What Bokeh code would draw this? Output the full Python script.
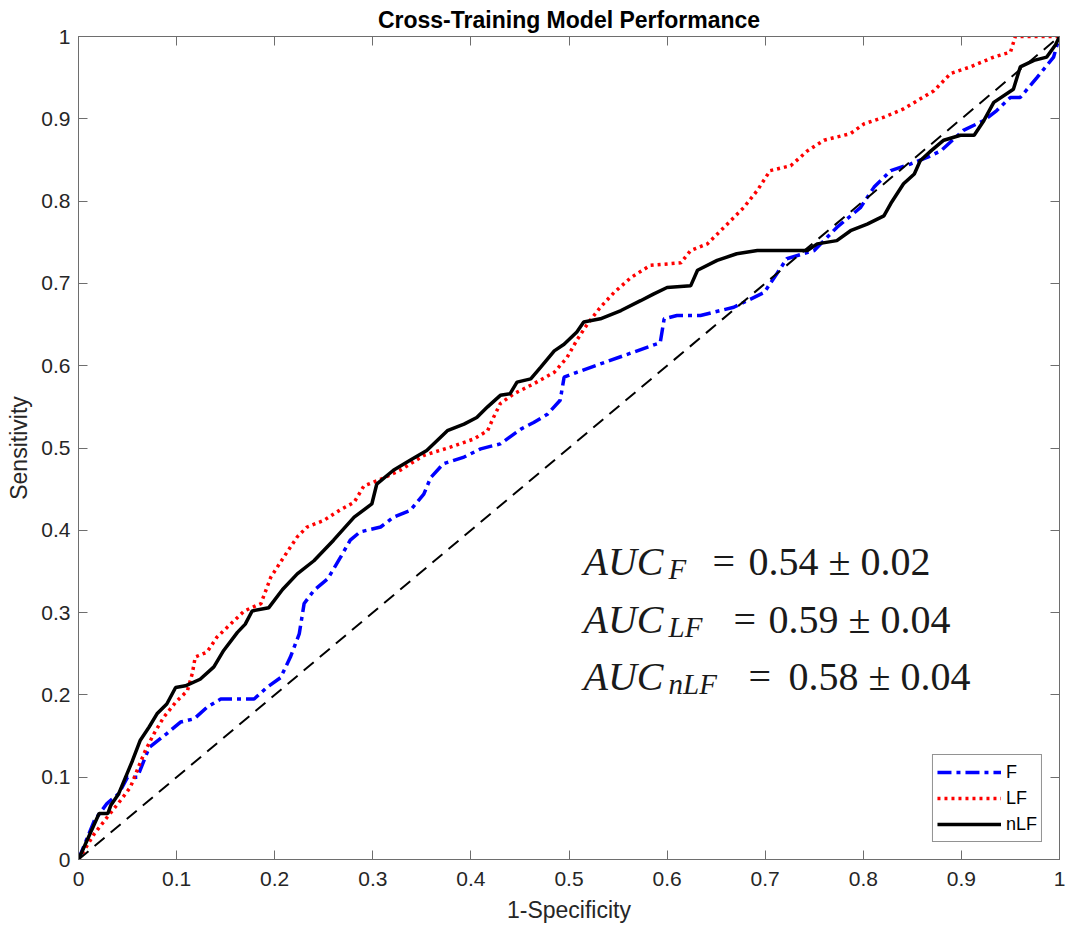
from bokeh.plotting import figure
from bokeh.models import LinearAxis, Label, FixedTicker, Range1d
from bokeh.embed import file_html
from bokeh.resources import INLINE

# ---------------- data ----------------
tick_vals = [0, 0.1, 0.2, 0.3, 0.4, 0.5, 0.6, 0.7, 0.8, 0.9, 1]
tick_labels = ["0", "0.1", "0.2", "0.3", "0.4", "0.5", "0.6", "0.7", "0.8", "0.9", "1"]

f_x = [0, 0.016, 0.029, 0.041, 0.050, 0.060, 0.072, 0.090, 0.104, 0.118, 0.131, 0.145, 0.179,
       0.192, 0.206, 0.216, 0.225, 0.230, 0.240, 0.254, 0.267, 0.277, 0.287, 0.308, 0.321, 0.338,
       0.352, 0.359, 0.372, 0.393, 0.410, 0.430, 0.451, 0.464, 0.478, 0.491, 0.495, 0.508, 0.593,
       0.597, 0.610, 0.634, 0.668, 0.699, 0.712, 0.722, 0.750, 0.773, 0.797, 0.811, 0.828, 0.848,
       0.865, 0.879, 0.902, 0.923, 0.936, 0.950, 0.960, 0.977, 0.994, 1.0]
f_y = [0, 0.047, 0.068, 0.080, 0.100, 0.100, 0.136, 0.153, 0.167, 0.171, 0.185, 0.195, 0.195,
       0.209, 0.221, 0.246, 0.274, 0.311, 0.327, 0.341, 0.367, 0.388, 0.398, 0.404, 0.416, 0.424,
       0.444, 0.464, 0.481, 0.489, 0.499, 0.505, 0.523, 0.531, 0.541, 0.558, 0.586, 0.592, 0.628,
       0.657, 0.661, 0.661, 0.671, 0.689, 0.712, 0.730, 0.740, 0.768, 0.792, 0.817, 0.837, 0.845,
       0.853, 0.861, 0.886, 0.898, 0.910, 0.926, 0.926, 0.950, 0.975, 1.0]

lf_x = [0, 0.016, 0.029, 0.043, 0.053, 0.061, 0.068, 0.077, 0.087, 0.099, 0.111, 0.116, 0.119,
        0.131, 0.141, 0.155, 0.169, 0.186, 0.196, 0.209, 0.223, 0.233, 0.250, 0.267, 0.281, 0.291,
        0.308, 0.328, 0.352, 0.379, 0.403, 0.417, 0.423, 0.430, 0.444, 0.464, 0.485, 0.498, 0.508,
        0.519, 0.532, 0.546, 0.563, 0.583, 0.614, 0.624, 0.641, 0.658, 0.678, 0.692, 0.705, 0.726,
        0.743, 0.760, 0.787, 0.801, 0.821, 0.841, 0.855, 0.872, 0.889, 0.909, 0.933, 0.950, 0.955, 1.0]
lf_y = [0, 0.031, 0.051, 0.072, 0.088, 0.112, 0.132, 0.153, 0.173, 0.191, 0.205, 0.226, 0.246,
        0.252, 0.270, 0.286, 0.302, 0.311, 0.343, 0.367, 0.392, 0.404, 0.412, 0.425, 0.434, 0.454,
        0.462, 0.473, 0.491, 0.501, 0.511, 0.521, 0.537, 0.554, 0.566, 0.578, 0.592, 0.610, 0.631,
        0.651, 0.671, 0.689, 0.707, 0.722, 0.725, 0.740, 0.748, 0.768, 0.792, 0.813, 0.837, 0.843,
        0.861, 0.874, 0.882, 0.894, 0.902, 0.912, 0.922, 0.934, 0.955, 0.963, 0.975, 0.981, 1.0, 1.0]

nlf_x = [0, 0.021, 0.030, 0.033, 0.041, 0.048, 0.055, 0.063, 0.072, 0.080, 0.090, 0.099, 0.109,
         0.124, 0.138, 0.148, 0.162, 0.170, 0.177, 0.194, 0.208, 0.223, 0.240, 0.260, 0.281, 0.299,
         0.304, 0.321, 0.338, 0.355, 0.376, 0.393, 0.406, 0.417, 0.430, 0.440, 0.447, 0.461, 0.471,
         0.485, 0.495, 0.508, 0.515, 0.532, 0.553, 0.573, 0.586, 0.600, 0.624, 0.631, 0.651, 0.671,
         0.692, 0.743, 0.753, 0.773, 0.787, 0.804, 0.821, 0.828, 0.841, 0.852, 0.858, 0.869, 0.882,
         0.899, 0.913, 0.923, 0.933, 0.953, 0.960, 0.974, 0.987, 0.996, 1.0]
nlf_y = [0, 0.056, 0.056, 0.066, 0.080, 0.100, 0.120, 0.145, 0.161, 0.177, 0.189, 0.209, 0.211,
         0.219, 0.234, 0.254, 0.276, 0.286, 0.302, 0.306, 0.328, 0.347, 0.363, 0.388, 0.416, 0.432,
         0.456, 0.473, 0.485, 0.497, 0.521, 0.529, 0.537, 0.550, 0.564, 0.566, 0.580, 0.584, 0.598,
         0.618, 0.626, 0.641, 0.653, 0.657, 0.667, 0.679, 0.687, 0.695, 0.697, 0.716, 0.728, 0.736,
         0.740, 0.740, 0.748, 0.752, 0.764, 0.772, 0.782, 0.797, 0.821, 0.833, 0.849, 0.861, 0.874,
         0.880, 0.880, 0.898, 0.920, 0.936, 0.963, 0.971, 0.975, 0.990, 1.0]

chance_x = [0, 1]
chance_y = [0, 1]

auc_subscripts = ["F", "LF", "nLF"]
auc_values = ["0.54 \u00b1 0.02", "0.59 \u00b1 0.04", "0.58 \u00b1 0.04"]

# ---------------- figure ----------------
AX = "#6e6e6e"
TXT = "#262626"
FONT = "Liberation Sans"

p = figure(width=1066, height=930, output_backend="svg", toolbar_location=None,
           x_range=Range1d(0, 1), y_range=Range1d(0, 1),
           min_border_left=78, min_border_right=7, min_border_top=36, min_border_bottom=71,
           background_fill_color="white", border_fill_color="white")
p.outline_line_color = AX
p.xgrid.visible = False
p.ygrid.visible = False

p.title.text = "Cross-Training Model Performance"
p.title.align = "center"
p.title.text_font = FONT
p.title.text_font_size = "23px"
p.title.text_font_style = "bold"
p.title.text_color = "#000000"
p.title.standoff = 7

overrides = {v: s for v, s in zip(tick_vals, tick_labels)}


def style_axis(ax, show_labels=True):
    ax.ticker = FixedTicker(ticks=tick_vals)
    ax.axis_line_color = AX
    ax.axis_line_width = 1
    ax.major_tick_line_color = AX
    ax.major_tick_in = 9
    ax.major_tick_out = 0
    ax.minor_tick_line_color = None
    ax.major_label_text_font = FONT
    if show_labels:
        ax.major_label_text_color = TXT
        ax.major_label_text_font_size = "21px"
        ax.major_label_overrides = overrides
    else:
        ax.major_label_text_color = None
        ax.major_label_text_font_size = "1px"
        ax.major_label_standoff = 0
    ax.axis_label_text_font = FONT
    ax.axis_label_text_font_size = "23px"
    ax.axis_label_text_font_style = "normal"
    ax.axis_label_text_color = TXT


style_axis(p.xaxis[0])
style_axis(p.yaxis[0])
p.xaxis[0].axis_label = "1-Specificity"
p.yaxis[0].axis_label = "Sensitivity"
p.xaxis[0].major_label_standoff = 12
p.xaxis[0].axis_label_standoff = 8
p.yaxis[0].major_label_standoff = 8
p.yaxis[0].axis_label_standoff = 6

top_ax = LinearAxis()
style_axis(top_ax, show_labels=False)
p.add_layout(top_ax, "above")
right_ax = LinearAxis()
style_axis(right_ax, show_labels=False)
p.add_layout(right_ax, "right")

# ---------------- curves ----------------
p.line(f_x, f_y, line_color="#0000ff", line_width=3.5, line_dash="14 5 4 5", legend_label="F")
p.line(lf_x, lf_y, line_color="#ff0000", line_width=3.5, line_dash="3 4", legend_label="LF")
p.line(nlf_x, nlf_y, line_color="#000000", line_width=3.5, legend_label="nLF")
p.line(chance_x, chance_y, line_color="#000000", line_width=2, line_dash="13 8")

lg = p.legend[0]
lg.location = "bottom_right"
lg.margin = 17
lg.padding = 4
lg.spacing = 0
lg.glyph_width = 64
lg.glyph_height = 26
lg.label_height = 26
lg.label_standoff = 5
lg.label_text_font = FONT
lg.label_text_font_size = "18px"
lg.label_text_color = "#000000"
lg.border_line_color = "#262626"
lg.border_line_width = 1
lg.background_fill_color = "white"
lg.background_fill_alpha = 1

# ---------------- AUC annotation ----------------
X0, X1, Y0, Y1 = 78.0, 1059.0, 859.0, 36.0


def dx(px):
    return (px - X0) / (X1 - X0)


def dy(py):
    return (Y0 - py) / (Y0 - Y1)


SERIF = "Liberation Serif"
AUC_COL = "#1a1a1a"
baselines = [561, 619, 676]
eq_x = [712, 733, 748]
val_x = [748, 768, 788]

for i in range(3):
    p.add_layout(Label(x=dx(583), y=dy(baselines[i]), text="AUC", text_font=SERIF,
                       text_font_style="italic", text_font_size="40px",
                       text_color=AUC_COL, text_baseline="alphabetic", text_align="left"))
    p.add_layout(Label(x=dx(668), y=dy(baselines[i] + 7), text=auc_subscripts[i], text_font=SERIF,
                       text_font_style="italic", text_font_size="29px",
                       text_color=AUC_COL, text_baseline="alphabetic", text_align="left"))
    p.add_layout(Label(x=dx(eq_x[i]), y=dy(baselines[i]), text="=", text_font=SERIF,
                       text_font_size="40px", text_color=AUC_COL,
                       text_baseline="alphabetic", text_align="left"))
    p.add_layout(Label(x=dx(val_x[i]), y=dy(baselines[i]), text=auc_values[i], text_font=SERIF,
                       text_font_size="40px", text_color=AUC_COL,
                       text_baseline="alphabetic", text_align="left"))

open("out.html", "w").write(file_html(p, INLINE))
